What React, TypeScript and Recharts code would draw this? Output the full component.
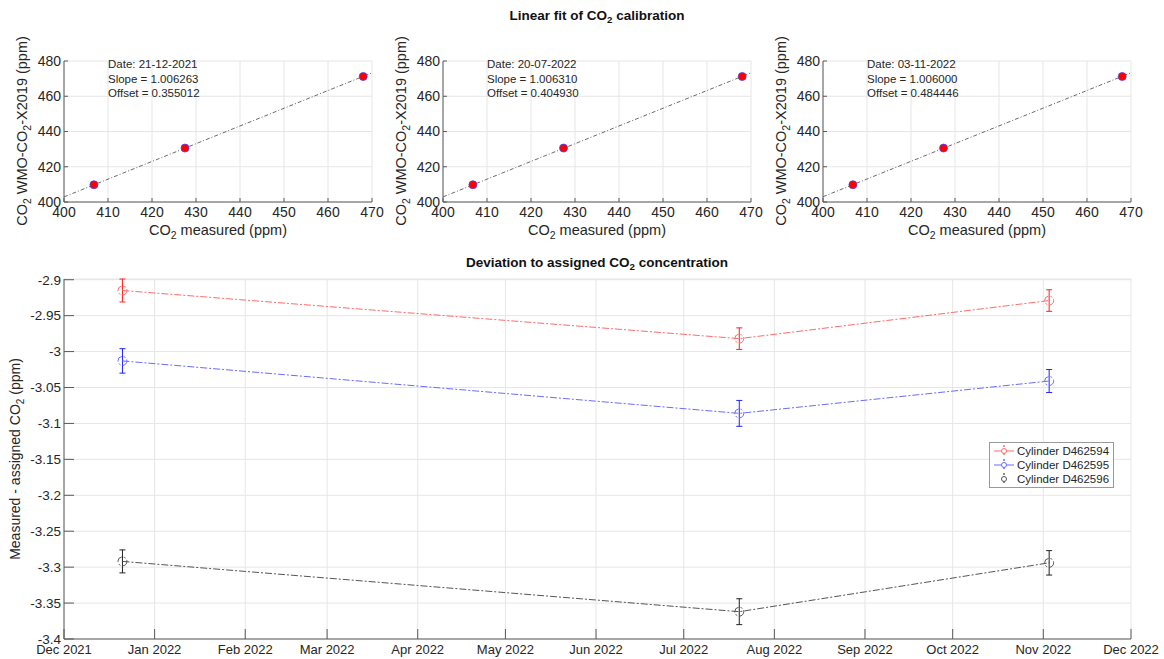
import React from 'react'
import {
  ComposedChart,
  LineChart,
  Line,
  Scatter,
  XAxis,
  YAxis,
  CartesianGrid,
  ErrorBar,
  Legend,
} from 'recharts'

// calibration panels
const calDates = ['21-12-2021', '20-07-2022', '03-11-2022']
const calSlopes = ['1.006263', '1.006310', '1.006000']
const calOffsets = ['0.355012', '0.404930', '0.484446']
const measuredCO2 = [
  [406.8, 427.5, 468.0],
  [406.8, 427.4, 468.0],
  [406.8, 427.4, 468.0],
]
const assignedCO2 = [
  [409.8, 430.6, 471.2],
  [409.8, 430.6, 471.2],
  [409.8, 430.6, 471.2],
]
const fitX = [400, 470]
const fitY = [
  [402.9, 473.3],
  [402.9, 473.3],
  [403.0, 473.3],
]
const calXTicks = [400, 410, 420, 430, 440, 450, 460, 470]
const calYTicks = [400, 420, 440, 460, 480]
const panelLefts = [64, 443, 823]

// deviation chart
const devDates = ['2021-12-21', '2022-07-20', '2022-11-03']
const cylinders = ['Cylinder D462594', 'Cylinder D462595', 'Cylinder D462596']
const dev594 = [-2.915, -2.982, -2.929]
const err594 = [0.016, 0.015, 0.015]
const dev595 = [-3.013, -3.086, -3.041]
const err595 = [0.017, 0.018, 0.016]
const dev596 = [-3.292, -3.362, -3.294]
const err596 = [0.016, 0.018, 0.017]
const monthTicks = [
  '2021-12-01', '2022-01-01', '2022-02-01', '2022-03-01', '2022-04-01', '2022-05-01', '2022-06-01',
  '2022-07-01', '2022-08-01', '2022-09-01', '2022-10-01', '2022-11-01', '2022-12-01',
]
const monthLabels = [
  'Dec 2021', 'Jan 2022', 'Feb 2022', 'Mar 2022', 'Apr 2022', 'May 2022', 'Jun 2022',
  'Jul 2022', 'Aug 2022', 'Sep 2022', 'Oct 2022', 'Nov 2022', 'Dec 2022',
]
const devTicks = [-2.9, -2.95, -3, -3.05, -3.1, -3.15, -3.2, -3.25, -3.3, -3.35, -3.4]

const lineColors = ['#ff6b6b', '#6b6bff', '#555555']
const barColors = ['#ff2020', '#2020ff', '#222222']

const toTime = (s: string) => Date.UTC(+s.slice(0, 4), +s.slice(5, 7) - 1, +s.slice(8, 10))
const tickTimes = monthTicks.map(toTime)

const devData = devDates.map((d, i) => ({
  t: toTime(d),
  d594: dev594[i],
  e594: err594[i],
  d595: dev595[i],
  e595: err595[i],
  d596: dev596[i],
  e596: err596[i],
}))

const FONT = '"Liberation Sans", Arial, Helvetica, sans-serif'
const TXT = '#262626'
const AXIS = '#5a5a5a'
const GRID = '#e6e6e6'

const Sub = () => (
  <span style={{ fontSize: '0.72em', position: 'relative', top: '0.35em' }}>2</span>
)

function CalPanel({ idx }: { idx: number }) {
  const left = panelLefts[idx]
  const pts = measuredCO2[idx].map((x, i) => ({ x, y: assignedCO2[idx][i] }))
  const fit = fitX.map((x, i) => ({ x, y: fitY[idx][i] }))
  return (
    <>
      <div style={{ position: 'absolute', left: left - 45, top: 49 }}>
        <ComposedChart width={373} height={178} margin={{ top: 12, right: 20, bottom: 0, left: 0 }}>
          <CartesianGrid stroke={GRID} />
          <XAxis
            type="number"
            dataKey="x"
            domain={[400, 470]}
            ticks={calXTicks}
            interval={0}
            height={25}
            tick={{ fontSize: 14, fill: TXT }}
            axisLine={{ stroke: AXIS }}
            tickLine={{ stroke: AXIS }}
            tickSize={-4}
            tickMargin={9}
          />
          <XAxis
            xAxisId="top"
            type="number"
            orientation="top"
            domain={[400, 470]}
            ticks={calXTicks}
            interval={0}
            height={0}
            tickFormatter={() => ''}
            axisLine={{ stroke: AXIS }}
            tickLine={{ stroke: AXIS }}
            tickSize={-4}
          />
          <YAxis
            type="number"
            domain={[400, 480]}
            ticks={calYTicks}
            interval={0}
            width={45}
            tick={{ fontSize: 14, fill: TXT }}
            axisLine={{ stroke: AXIS }}
            tickLine={{ stroke: AXIS }}
            tickSize={-4}
            tickMargin={7}
          />
          <YAxis
            yAxisId="right"
            type="number"
            orientation="right"
            domain={[400, 480]}
            ticks={calYTicks}
            interval={0}
            width={0}
            tickFormatter={() => ''}
            axisLine={{ stroke: AXIS }}
            tickLine={{ stroke: AXIS }}
            tickSize={-4}
          />
          <Line
            data={fit}
            dataKey="y"
            type="linear"
            stroke="#444"
            strokeWidth={0.8}
            strokeDasharray="4 2 1 2"
            dot={false}
            isAnimationActive={false}
          />
          <Scatter
            data={pts}
            dataKey="y"
            isAnimationActive={false}
            shape={(p: any) => (
              <circle cx={p.cx} cy={p.cy} r={4} fill="#ff0000" stroke="#4444ff" strokeWidth={0.8} />
            )}
          />
        </ComposedChart>
      </div>
      <div
        style={{
          position: 'absolute',
          left: left + 44,
          top: 57,
          fontSize: 11.5,
          lineHeight: '14.5px',
          color: TXT,
          whiteSpace: 'nowrap',
        }}
      >
        <div>Date: {calDates[idx]}</div>
        <div>Slope = {calSlopes[idx]}</div>
        <div>Offset = {calOffsets[idx]}</div>
      </div>
      <div
        style={{
          position: 'absolute',
          left: left - 42,
          top: 131,
          transform: 'translate(-50%, -50%) rotate(-90deg)',
          fontSize: 14.5,
          lineHeight: 1,
          color: TXT,
          whiteSpace: 'nowrap',
        }}
      >
        CO<Sub /> WMO-CO<Sub />-X2019 (ppm)
      </div>
      <div
        style={{
          position: 'absolute',
          left: left + 154,
          top: 230,
          transform: 'translate(-50%, -50%)',
          fontSize: 14.5,
          lineHeight: 1,
          color: TXT,
          whiteSpace: 'nowrap',
        }}
      >
        CO<Sub /> measured (ppm)
      </div>
    </>
  )
}

function LegendBox() {
  return (
    <div
      style={{
        background: '#fff',
        border: '1px solid #9a9a9a',
        padding: '1px 4px 1px 3px',
        fontFamily: FONT,
        fontSize: 11.5,
        color: TXT,
        lineHeight: '14px',
      }}
    >
      {cylinders.map((name, i) => (
        <div key={name} style={{ display: 'flex', alignItems: 'center', whiteSpace: 'nowrap' }}>
          <svg width={22} height={14} style={{ marginRight: 2 }}>
            {i < 2 && <line x1={1} y1={7} x2={21} y2={7} stroke={lineColors[i]} strokeWidth={1} />}
            <line x1={11} y1={1} x2={11} y2={13} stroke={barColors[i]} strokeWidth={1} strokeDasharray="2 2" />
            <circle cx={11} cy={7} r={2.5} fill="#fff" stroke={lineColors[i]} />
          </svg>
          {name}
        </div>
      ))}
    </div>
  )
}

function DeviationChart() {
  const keys = ['594', '595', '596']
  return (
    <div style={{ position: 'absolute', left: 14, top: 267 }}>
      <LineChart width={1150} height={392} data={devData} margin={{ top: 12, right: 33, bottom: 0, left: 0 }}>
        <CartesianGrid stroke={GRID} />
        <XAxis
          type="number"
          dataKey="t"
          domain={[tickTimes[0], tickTimes[tickTimes.length - 1]]}
          ticks={tickTimes}
          interval={0}
          tickFormatter={(v: number) => monthLabels[tickTimes.indexOf(v)]}
          height={20}
          tick={{ fontSize: 13, fill: TXT }}
          axisLine={{ stroke: AXIS }}
          tickLine={{ stroke: AXIS }}
          tickSize={-10}
          tickMargin={16}
        />
        <XAxis
          xAxisId="top"
          type="number"
          orientation="top"
          domain={[tickTimes[0], tickTimes[tickTimes.length - 1]]}
          ticks={tickTimes}
          interval={0}
          height={0}
          tickFormatter={() => ''}
          axisLine={{ stroke: AXIS }}
          tickLine={{ stroke: AXIS }}
          tickSize={-10}
        />
        <YAxis
          type="number"
          domain={[-3.4, -2.9]}
          ticks={devTicks}
          interval={0}
          width={50}
          tickFormatter={(v: number) => String(v)}
          tick={{ fontSize: 13.5, fill: TXT }}
          axisLine={{ stroke: AXIS }}
          tickLine={{ stroke: AXIS }}
          tickSize={-10}
          tickMargin={13}
        />
        <YAxis
          yAxisId="right"
          type="number"
          orientation="right"
          domain={[-3.4, -2.9]}
          ticks={devTicks}
          interval={0}
          width={0}
          tickFormatter={() => ''}
          axisLine={{ stroke: AXIS }}
          tickLine={{ stroke: AXIS }}
          tickSize={-10}
        />
        {keys.map((k, i) => (
          <Line
            key={k}
            dataKey={'d' + k}
            name={cylinders[i]}
            type="linear"
            stroke={lineColors[i]}
            strokeWidth={1}
            strokeDasharray="7 2 2 2"
            dot={{ r: 4.5, fill: 'none', stroke: lineColors[i], strokeWidth: 1 }}
            isAnimationActive={false}
          >
            <ErrorBar dataKey={'e' + k} direction="y" width={3} stroke={barColors[i]} strokeWidth={1} />
          </Line>
        ))}
        <Legend
          layout="horizontal"
          verticalAlign="middle"
          align="center"
          content={() => <LegendBox />}
          wrapperStyle={{ left: 975, top: 175, width: 'auto', height: 'auto' }}
        />
      </LineChart>
    </div>
  )
}

export default function App() {
  return (
    <div
      style={{
        position: 'absolute',
        left: 0,
        top: 0,
        width: 1164,
        height: 659,
        background: '#fff',
        fontFamily: FONT,
        overflow: 'hidden',
      }}
    >
      <div
        style={{
          position: 'absolute',
          left: 597,
          top: 16,
          transform: 'translate(-50%, -50%)',
          fontSize: 13.5,
          fontWeight: 'bold',
          color: '#111',
          whiteSpace: 'nowrap',
          lineHeight: 1,
        }}
      >
        Linear fit of CO<Sub /> calibration
      </div>
      {panelLefts.map((_, i) => (
        <CalPanel key={i} idx={i} />
      ))}
      <div
        style={{
          position: 'absolute',
          left: 597,
          top: 263,
          transform: 'translate(-50%, -50%)',
          fontSize: 13.5,
          fontWeight: 'bold',
          color: '#111',
          whiteSpace: 'nowrap',
          lineHeight: 1,
        }}
      >
        Deviation to assigned CO<Sub /> concentration
      </div>
      <DeviationChart />
      <div
        style={{
          position: 'absolute',
          left: 15,
          top: 459,
          transform: 'translate(-50%, -50%) rotate(-90deg)',
          fontSize: 14,
          lineHeight: 1,
          color: TXT,
          whiteSpace: 'nowrap',
        }}
      >
        Measured - assigned CO<Sub /> (ppm)
      </div>
    </div>
  )
}
